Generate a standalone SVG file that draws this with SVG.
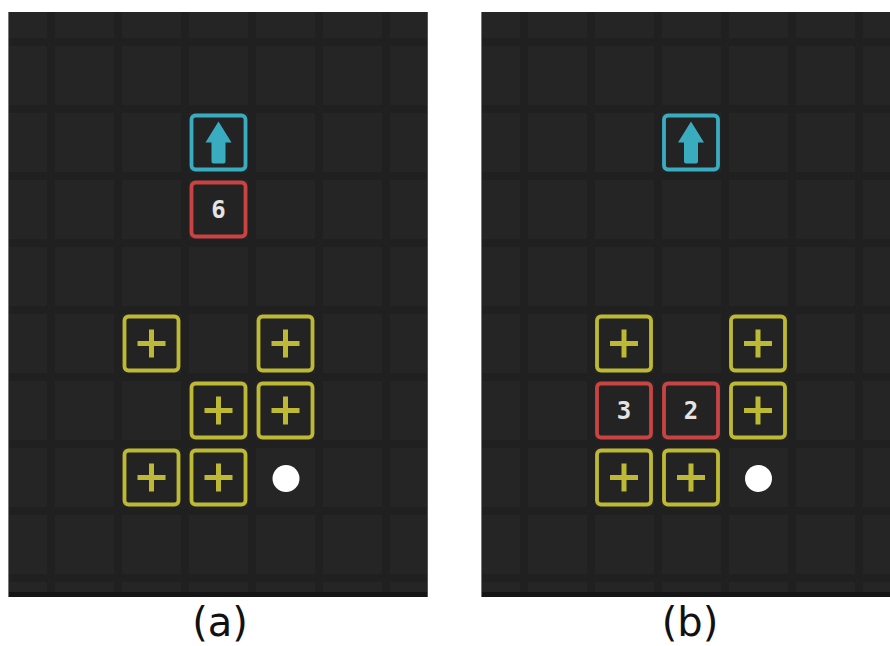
<svg xmlns="http://www.w3.org/2000/svg" width="890" height="646" viewBox="0 0 890 646">
<style>
.bg{fill:#252525}
.band{fill:#202020}
.edge{fill:#151515}
.tile{fill:#232323;stroke-width:3.8}
.y{stroke:#bdb934}
.c{stroke:#3aacc0}
.r{stroke:#c94343}
.plus{stroke:#bdb934;stroke-width:5;fill:none}
.num{font-family:"DejaVu Sans Mono",monospace;font-weight:bold;font-size:24px;fill:#e4e4e4;text-anchor:middle}
.lab{font-family:"DejaVu Sans",sans-serif;font-size:40px;fill:#111;text-anchor:middle}
</style>
<defs>
<g id="grid">
<rect class="bg" x="0" y="12" width="420" height="585"/>
<rect class="band" x="39" y="12" width="8" height="585"/>
<rect class="band" x="106" y="12" width="8" height="585"/>
<rect class="band" x="173" y="12" width="8" height="585"/>
<rect class="band" x="240" y="12" width="8" height="585"/>
<rect class="band" x="307" y="12" width="8" height="585"/>
<rect class="band" x="374" y="12" width="8" height="585"/>
<rect class="band" x="0" y="38" width="420" height="8"/>
<rect class="band" x="0" y="105" width="420" height="8"/>
<rect class="band" x="0" y="172" width="420" height="8"/>
<rect class="band" x="0" y="239" width="420" height="8"/>
<rect class="band" x="0" y="306" width="420" height="8"/>
<rect class="band" x="0" y="373" width="420" height="8"/>
<rect class="band" x="0" y="440" width="420" height="8"/>
<rect class="band" x="0" y="507" width="420" height="8"/>
<rect class="band" x="0" y="574" width="420" height="8"/>
<rect class="edge" x="0" y="592" width="420" height="5"/>
<rect x="0" y="12" width="1" height="585" fill="#777"/>
<rect x="419" y="12" width="1" height="585" fill="#555"/>
</g>
<g id="plusTile">
<rect class="tile y" x="-27" y="-27" width="54" height="54" rx="4"/>
<path class="plus" d="M-14 0H14M0 -14V14"/>
</g>
<g id="arrowTile">
<rect class="tile c" x="-27" y="-27" width="54" height="54" rx="4"/>
<path d="M0 -21L13 0H7V19Q7 21 5 21H-5Q-7 21 -7 19V0H-13Z" fill="#3aacc0"/>
</g>
<g id="redTile">
<rect class="tile r" x="-27" y="-27" width="54" height="54" rx="4"/>
</g>
</defs>
<rect width="890" height="646" fill="#fff"/>
<use href="#grid" x="8" y="0"/>
<use href="#grid" x="481" y="0"/>
<g id="panel-a">
<g id="a-arrow"><use href="#arrowTile" x="218.5" y="142.5"/></g>
<g id="a-six"><use href="#redTile" x="218.5" y="209.5"/><text class="num" x="218.5" y="218">6</text></g>
<g id="a-plus1"><use href="#plusTile" x="151.5" y="343.5"/></g>
<g id="a-plus2"><use href="#plusTile" x="285.5" y="343.5"/></g>
<g id="a-plus3"><use href="#plusTile" x="218.5" y="410.5"/></g>
<g id="a-plus4"><use href="#plusTile" x="285.5" y="410.5"/></g>
<g id="a-plus5"><use href="#plusTile" x="151.5" y="477.5"/></g>
<g id="a-plus6"><use href="#plusTile" x="218.5" y="477.5"/></g>
<g id="a-ball"><circle cx="286" cy="478.5" r="13.5" fill="#fff"/></g>
</g>
<g id="panel-b">
<g id="b-arrow"><use href="#arrowTile" x="691" y="142.5"/></g>
<g id="b-plus1"><use href="#plusTile" x="624" y="343.5"/></g>
<g id="b-plus2"><use href="#plusTile" x="758" y="343.5"/></g>
<g id="b-three"><use href="#redTile" x="624" y="410.5"/><text class="num" x="624" y="419">3</text></g>
<g id="b-two"><use href="#redTile" x="691" y="410.5"/><text class="num" x="691" y="419">2</text></g>
<g id="b-plus3"><use href="#plusTile" x="758" y="410.5"/></g>
<g id="b-plus4"><use href="#plusTile" x="624" y="477.5"/></g>
<g id="b-plus5"><use href="#plusTile" x="691" y="477.5"/></g>
<g id="b-ball"><circle cx="758.5" cy="478.5" r="13.5" fill="#fff"/></g>
</g>
<g id="connectors"></g>
<text class="lab" x="220" y="636">(a)</text>
<text class="lab" x="690" y="636">(b)</text>
</svg>
